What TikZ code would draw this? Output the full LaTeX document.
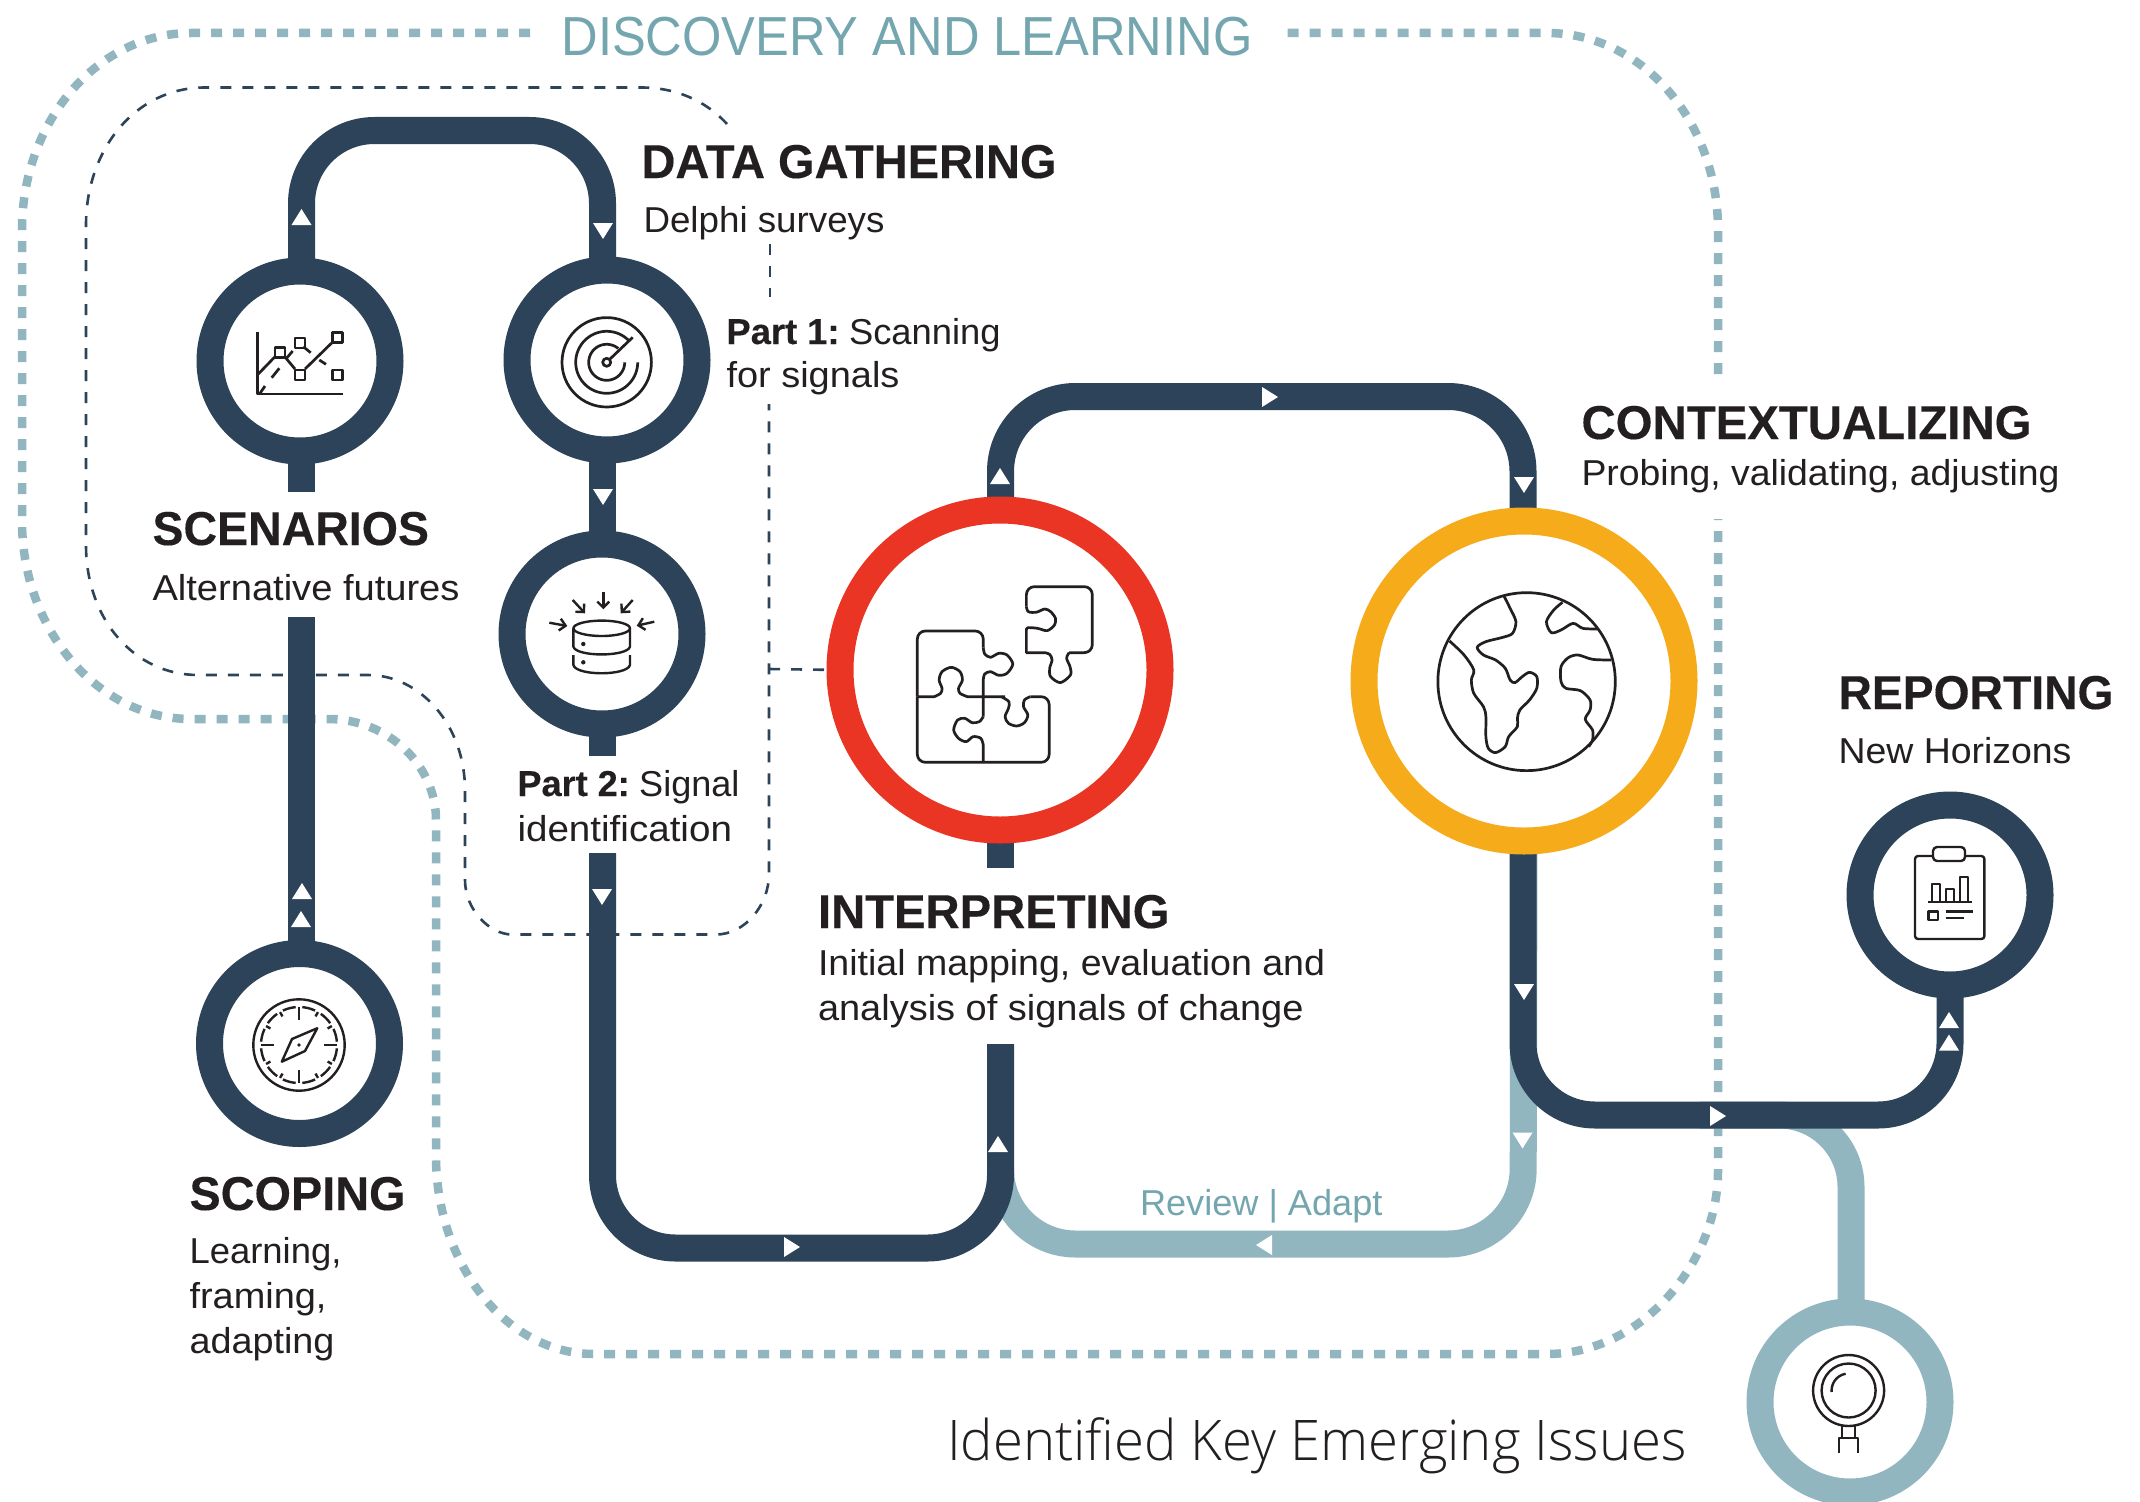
\documentclass[tikz,border=0pt]{standalone}
\usepackage{fontspec}
\usepackage{graphicx}
\usetikzlibrary{arrows.meta}
\setmainfont{Liberation Sans}
\newfontfamily\lightf{Open Sans}[UprightFont=* Light]
\newfontfamily\headf{Liberation Sans Bold}[FakeBold=0.25]
\definecolor{navy}{HTML}{2D4359}
\definecolor{pale}{HTML}{91B6C0}
\definecolor{paletext}{HTML}{74A6AF}
\definecolor{redring}{HTML}{EA3424}
\definecolor{yelring}{HTML}{F6AB1B}
\definecolor{ink}{HTML}{231F20}
\pgfdeclarelayer{dashlayer}\pgfdeclarelayer{palelayer}\pgfdeclarelayer{navylayer}
\pgfsetlayers{dashlayer,palelayer,navylayer,main}
\newcommand\fitted[2]{\resizebox{\dimexpr#1pt+2pt\relax}{\height}{#2}}
\newcommand\tri[3]{\fill[white,shift={(#1,#2)},rotate=#3] (-8,-10) -- (8,0) -- (-8,10) -- cycle;}
\tikzset{
 ring/.style={circle,draw=navy,line width=27pt,fill=white,minimum size=180pt,inner sep=0pt,outer sep=0pt},
 bigring/.style={circle,line width=27pt,fill=white,minimum size=320pt,inner sep=0pt,outer sep=0pt},
 rail/.style={draw=navy,line width=27pt},
 palerail/.style={draw=pale,line width=27pt},
 bound/.style={draw=pale,line width=8.5pt,dash pattern=on 11pt off 11pt},
 thin/.style={draw=navy,line width=2.6pt,dash pattern=on 11pt off 11pt},
 txt/.style={anchor=base west,inner sep=0pt,outer sep=0pt,text=ink,xshift=-1.5pt},
 head/.style={txt,font=\headf\fontsize{47.5}{50}\selectfont},
 body/.style={txt,font=\fontsize{36}{40}\selectfont},
 icon/.style={draw=ink,line width=2.7pt},
 iconthin/.style={draw=ink,line width=2.4pt},
}
\begin{document}
\begin{tikzpicture}[x=1pt,y=-1pt,line join=round]
\useasboundingbox (0,0) rectangle (2140,1501);
% rings
\node[ring] (scen) at (300,361) {};
\node[ring] (radar) at (607,360) {};
\node[ring] (db) at (602,634) {};
\node[ring] (scop) at (299.5,1043.5) {};
\node[ring] (rep) at (1950,895) {};
\node[ring,draw=pale] (lens) at (1850,1402) {};
\node[bigring,draw=redring] (interp) at (1000,670) {};
\node[bigring,draw=yelring] (yell) at (1524,681) {};
% free ends
\coordinate (scenend) at (301.5,492);
\coordinate (scoptop) at (301.5,617);
\coordinate (dbend) at (602.5,756);
\coordinate (partend) at (602.5,853);
\coordinate (interpend) at (1000.5,868);
\coordinate (mapend) at (1000.5,1044);
\coordinate (revend) at (1000.5,1171);
\coordinate (lensstart) at (1700,1115);
\begin{pgfonlayer}{dashlayer}
\fill[white] (0,0) rectangle (2140,1501);
\draw[bound] (530,33) -- (191,33) .. controls (98,33) and (22,121) .. (22,230) -- (22,521)
  .. controls (22,630) and (98,719) .. (191,719) -- (328,719) .. controls (388,719) and (436,765) .. (436,820)
  -- (436,1156) .. controls (436,1265) and (507,1354) .. (594,1354) -- (1547,1354)
  .. controls (1642,1354) and (1718,1262) .. (1718,1171) -- (1718,519);
\draw[bound] (1718,374) -- (1718,230) .. controls (1718,121) and (1642,33) .. (1547,33) -- (1283,33);
\draw[thin] (727,124) .. controls (705,100) and (675,87.5) .. (641,87.5) -- (205,87.5)
  .. controls (135,87.5) and (86,150) .. (86,225) -- (86,545) .. controls (86,620) and (135,675) .. (198,675)
  -- (368,675) .. controls (420,675) and (465,725) .. (465,790) -- (465,880)
  .. controls (465,910) and (490,934.5) .. (512,934.5) -- (716,934.5)
  .. controls (745,934.5) and (769,905) .. (769,874) -- (769,404);
\draw[thin] (770,244) -- (770,297);
\draw[thin] (769,669) -- (interp.west);
\end{pgfonlayer}
\begin{pgfonlayer}{palelayer}
\draw[palerail,rounded corners=75pt] (yell.south) -- (1523,1244) -- (1000.5,1244) -- (revend);
\draw[palerail,rounded corners=72pt] (lensstart) -- (1851,1115) -- ([xshift=1pt]lens.north);
\end{pgfonlayer}
\begin{pgfonlayer}{navylayer}
\draw[rail,rounded corners=73pt] ([xshift=1.5pt]scen.north) -- (301.5,130.5) -- (602.5,130.5) -- ([xshift=-4.5pt]radar.north);
\draw[rail] ([xshift=1.5pt]scen.south) -- (scenend);
\draw[rail] (scoptop) -- ([xshift=2pt]scop.north);
\draw[rail] ([xshift=-4.5pt]radar.south) -- ([xshift=.5pt]db.north);
\draw[rail] ([xshift=.5pt]db.south) -- (dbend);
\draw[rail,rounded corners=73pt] (partend) -- (602.5,1248) -- (1000.5,1248) -- (mapend);
\draw[rail] ([xshift=.5pt]interp.south) -- (interpend);
\draw[rail,rounded corners=75pt] ([xshift=.5pt]interp.north) -- (1000.5,396.5) -- (1523,396.5) -- ([xshift=-1pt]yell.north);
\draw[rail,rounded corners=72pt] ([xshift=-1pt]yell.south) -- (1523,1115) -- (1950,1115) -- (rep.south);
\end{pgfonlayer}
% arrowheads
\tri{301.5}{217}{90}\tri{603}{231}{-90}\tri{603}{497}{-90}\tri{1000}{476}{90}
\tri{1270}{397}{0}\tri{1524}{485}{-90}\tri{302}{891}{90}\tri{301}{919}{90}
\tri{602}{897}{-90}\tri{998}{1144}{90}\tri{792}{1247}{0}\tri{1264}{1245}{180}
\tri{1524}{992}{-90}\tri{1522.5}{1140.5}{-90}\tri{1718}{1116}{0}\tri{1949}{1020}{90}\tri{1949}{1042.5}{90}
% texts
\node[txt,text=paletext,font=\fontsize{55}{58}\selectfont] (t1) at (563,56) {\fitted{689}{DISCOVERY AND LEARNING}};
\node[head] (t2) at (643,178) {\fitted{413}{DATA GATHERING}};
\node[body] (t3) at (645,232) {\fitted{239}{Delphi surveys}};
\node[body] (t4) at (728,344) {\fitted{272}{{\headf Part 1:} \kern-4pt Scanning}};
\node[body] (t5) at (728,387.5) {\fitted{171}{for signals}};
\node[head] (t6) at (154,545) {\fitted{274.5}{SCENARIOS}};
\node[body] (t7) at (154,600) {\fitted{305}{Alternative futures}};
\node[body] (t8) at (519,796) {\fitted{220}{{\headf Part 2:} \kern-4pt Signal}};
\node[body] (t9) at (519,841) {\fitted{212.5}{identification}};
\node[head] (t10) at (819.5,928) {\fitted{349.5}{INTERPRETING}};
\node[body] (t11) at (819.5,975) {\fitted{505}{Initial mapping, evaluation and}};
\node[body] (t12) at (819.5,1020) {\fitted{483.5}{analysis of signals of change}};
\node[head] (t13) at (191,1210) {\fitted{214}{SCOPING}};
\node[body] (t14) at (191,1263) {\fitted{150}{Learning,}};
\node[body] (t15) at (191,1308) {\fitted{135}{framing,}};
\node[body] (t16) at (191,1353) {\fitted{143}{adapting}};
\node[head] (t17) at (1583,439) {\fitted{448}{CONTEXTUALIZING}};
\node[body] (t18) at (1583,485.5) {\fitted{476}{Probing, validating, adjusting}};
\node[head] (t19) at (1840,709) {\fitted{273}{REPORTING}};
\node[body] (t20) at (1840,763) {\fitted{231}{New Horizons}};
\node[body,text=paletext] (t21) at (1141.5,1215) {\fitted{240.5}{Review | Adapt}};
\node[txt,font=\lightf\fontsize{56}{58}\selectfont] (t22) at (948.5,1460) {\fitted{737.5}{Identified Key Emerging Issues}};
% chart icon
\draw[icon] (257.7,331.7) -- (257.7,394) -- (343,394);
\foreach \a/\b in {280/352.7,300/343,300/375,337.3/337.3,337.3/375}{\draw[icon] (\a-5,\b-5) rectangle (\a+5,\b+5);}
\draw[icon] (258.3,374) -- (275,356.7);
\draw[icon] (285,357) -- (295,369);
\draw[icon] (305,369) -- (333,341.7);
\draw[icon] (286.7,358) -- (292.7,351);
\draw[icon] (303.3,346.7) -- (310.7,352.7);
\draw[icon] (319.3,360) -- (326,364.3);
\draw[icon] (271.7,377.7) -- (279.3,368.3);
\draw[icon] (260,393.3) -- (265,386);
% radar icon
\draw[icon] (606.7,362.3) circle[radius=44.7pt] circle[radius=4pt];
\draw[icon,smooth] plot[domain=0:-315,samples=60] ({606.7+31*cos(\x)},{362.3-31*sin(\x)});
\draw[icon,smooth] plot[domain=0:-310,samples=60] ({606.7+18*cos(\x)},{362.3-18*sin(\x)});
\draw[icon] (609.5,359.5) -- (632.7,337.3);
% database icon
\draw[iconthin] (601.7,628.3) ellipse[x radius=28.3pt,y radius=7.7pt];
\draw[iconthin] (573.4,628.3) -- (573.4,646.7) .. controls (576,657) and (627,657) .. (630,646.7) -- (630,628.3);
\draw[iconthin] (573.4,655) -- (573.4,665) .. controls (576,676) and (627,676) .. (630,665) -- (630,655);
\fill[ink] (583.3,644) circle[radius=2.2pt] (583.3,662.3) circle[radius=2.2pt];
\foreach \ax/\ay/\bx/\by in {603.3/591.7/603.3/609.3,572.7/600/585/613.3,632.7/600/620.7/613.3,549.3/622.7/567.3/626,654.3/621.7/636.7/625.7}{
 \draw[iconthin,-{Straight Barb[length=6pt,width=12pt]}] (\ax,\ay) -- (\bx,\by);}
% compass icon
\draw[iconthin] (299,1045) circle[radius=45.7pt];
\foreach \s/\e in {5/25,35/55,65/85,95/115,125/145,155/175,185/205,215/235,245/265,275/295,305/325,335/355}{
 \draw[iconthin] plot[smooth,domain=\s:\e,samples=8] ({299+38*cos(\x)},{1045+38*sin(\x)});}
\foreach \t in {0,90,180,270}{\draw[iconthin] ({299+38*cos(\t)},{1045+38*sin(\t)}) -- ({299+25*cos(\t)},{1045+25*sin(\t)});}
\foreach \t in {30,60,120,150,210,240,300,330}{\draw[iconthin] ({299+38*cos(\t)},{1045+38*sin(\t)}) -- ({299+33*cos(\t)},{1045+33*sin(\t)});}
\draw[iconthin] (317.3,1028.2) -- (292,1039) -- (281.8,1061.7) -- (305,1051) -- cycle;
\fill[ink] (299,1045) circle[radius=1.8pt];
% clipboard icon
\draw[iconthin] (1933,856) -- (1921,856) [rounded corners=3pt] -- (1915,856) -- (1915,939) -- (1984.4,939) -- (1984.4,856) -- (1965,856);
\draw[iconthin,rounded corners=4pt] (1933,861) rectangle (1965,847);
\draw[iconthin] (1928,902) -- (1972,902);
\draw[iconthin] (1932,902) -- (1932,884) -- (1940,884) -- (1940,902);
\draw[iconthin] (1946,902) -- (1946,889) -- (1954,889) -- (1954,902);
\draw[iconthin] (1960,902) -- (1960,877) -- (1968,877) -- (1968,902);
\draw[iconthin] (1928.5,911.5) rectangle (1938,920);
\draw[iconthin] (1945.5,911.5) -- (1973,911.5);
\draw[iconthin] (1945.5,918) -- (1964,918);
% magnifier icon
\draw[iconthin] (1848.6,1390.5) circle[radius=35.5pt] circle[radius=27pt];
\draw[iconthin] plot[smooth,domain=100:185,samples=12] ({1848.6+17*cos(\x)},{1390.5-17*sin(\x)});
\draw[iconthin] (1842,1426) -- (1842,1437) (1855,1426) -- (1855,1437);
\draw[iconthin] (1839,1452.6) -- (1839,1438) -- (1858,1438) -- (1858,1452.6);
% puzzle icon
\begin{scope}[shift={(880,560)},x=0.4847pt,y=-0.3333pt]
\draw[icon,rounded corners=8pt] (77,410) -- (77,213) -- (213,213) -- (213,262);
\draw[icon] plot[smooth] coordinates {(213,262)(216,282)(228,292)(245,280)(262,285)(274,312)(262,340)(245,346)(228,335)(216,342)(213,360)} -- (213,470);
\draw[icon] plot[smooth] coordinates {(213,470)(205,485)(190,488)(175,475)(160,480)(152,510)(162,535)(178,545)(192,530)(208,535)(213,555)} -- (213,607);
\draw[icon] (77,410) -- plot[smooth] coordinates {(112,410)(125,400)(128,385)(122,360)(128,335)(147,322)(165,335)(170,360)(162,385)(165,400)(180,410)} -- (258,410);
\draw[icon] plot[smooth] coordinates {(250,410)(266,425)(265,445)(258,470)(265,490)(282,498)(298,488)(305,465)(296,440)(298,420)(310,410)};
\draw[icon,rounded corners=8pt] (310,410) -- (349,410) -- (349,607) -- (77,607) -- (77,410);
\draw[icon,rounded corners=8pt] (302,140) -- (302,80) -- (438,80) -- (438,278) -- (390,278);
\draw[icon] plot[smooth] coordinates {(390,278)(385,295)(392,320)(393,345)(372,368)(352,350)(350,325)(355,300)(350,283)(340,278)} -- (302,278) -- (302,210);
\draw[icon] plot[smooth] coordinates {(302,210)(305,203)(325,205)(345,212)(360,195)(362,175)(352,155)(340,147)(322,157)(306,155)(302,140)};
\draw[icon] (1334,365) ellipse[x radius=183,y radius=267];
\draw[icon] plot[smooth] coordinates {(1288,110)(1300,145)(1312,185)(1305,220)(1285,232)(1250,245)(1232,262)(1245,285)(1270,300)(1290,325)(1300,360)(1310,368)(1325,350)(1340,337)(1355,350)(1355,385)(1340,420)(1320,450)(1315,475)(1315,500)(1297,530)(1290,560)(1270,578)(1255,565)(1250,530)(1250,470)(1245,440)(1225,400)(1220,360)(1225,330)(1205,285)(1175,243)};
\draw[icon] plot[smooth] coordinates {(1408,127)(1390,150)(1375,185)(1385,218)(1405,210)(1430,190)(1450,205)(1480,207)};
\draw[icon] plot[smooth] coordinates {(1508,300)(1470,298)(1440,285)(1420,293)(1405,320)(1405,365)(1415,385)(1445,392)(1465,420)(1465,450)(1455,478)(1470,510)(1470,540)(1462,560)};
\end{scope}
\end{tikzpicture}
\end{document}
